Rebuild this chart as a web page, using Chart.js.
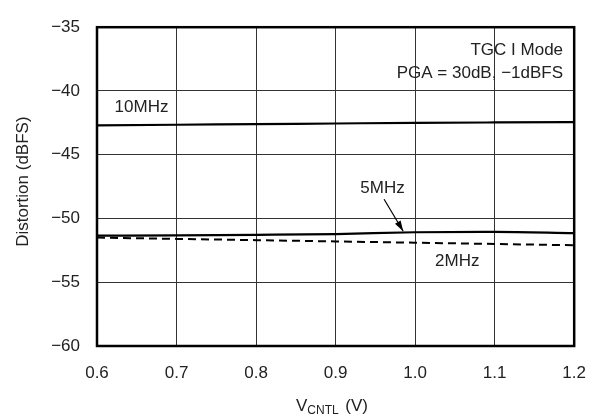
<!DOCTYPE html>
<html>
<head>
<meta charset="utf-8">
<script src="https://cdn.jsdelivr.net/npm/chart.js@4"></script>
<style>
  html, body { margin: 0; padding: 0; background: #fff; }
  #wrap { width: 603px; height: 416px; position: relative; }
</style>
</head>
<body>
<div id="wrap"><canvas id="chart"></canvas></div>
<script>
// control voltage (V)
const vcntl = [0.6, 0.7, 0.8, 0.9, 1.0, 1.1, 1.2];
// distortion (dBFS) per input frequency
const dist10MHz = [-42.7, -42.65, -42.6, -42.55, -42.5, -42.47, -42.45];
const dist5MHz = [-51.35, -51.32, -51.28, -51.22, -51.08, -51.05, -51.15];
const dist2MHz = [-51.5, -51.6, -51.7, -51.8, -51.9, -52.0, -52.1];

const xTicks = [0.6, 0.7, 0.8, 0.9, 1.0, 1.1, 1.2];
const yTicks = [-60, -55, -50, -45, -40, -35];

const FONT = '"Liberation Sans", Arial, Helvetica, sans-serif';

function pts(ys) {
  return vcntl.map((x, i) => ({ x: x, y: ys[i] }));
}

// frame, labels, arrow, axis titles
const decorate = {
  id: 'decorate',
  afterDraw(chart) {
    const c = chart.ctx;
    const a = chart.chartArea;
    const xs = chart.scales.x, ys = chart.scales.y;
    const px = v => xs.getPixelForValue(v);
    const py = v => ys.getPixelForValue(v);

    c.save();
    c.strokeStyle = '#000';
    c.lineWidth = 2.5;
    c.strokeRect(a.left, a.top, a.right - a.left, a.bottom - a.top);

    c.fillStyle = '#222';
    c.font = '17px ' + FONT;
    c.textBaseline = 'middle';
    c.textAlign = 'center';
    c.fillText('10MHz', px(0.656), py(-41.25));
    c.fillText('5MHz', px(0.959), py(-47.6));
    c.fillText('2MHz', px(1.053), py(-53.37));
    c.textAlign = 'right';
    c.fillText('TGC I Mode', px(1.186), py(-36.83));
    c.fillText('PGA = 30dB, \u22121dBFS', px(1.186), py(-38.58));

    // arrow to 5MHz curve
    const x1 = px(0.961), y1 = py(-48.49), x2 = px(0.985), y2 = py(-51.0);
    c.strokeStyle = '#000';
    c.lineWidth = 1.2;
    c.beginPath();
    c.moveTo(x1, y1);
    c.lineTo(x2, y2);
    c.stroke();
    const ang = Math.atan2(y2 - y1, x2 - x1);
    c.beginPath();
    c.moveTo(x2, y2);
    c.lineTo(x2 - 11 * Math.cos(ang - 0.3), y2 - 11 * Math.sin(ang - 0.3));
    c.lineTo(x2 - 11 * Math.cos(ang + 0.3), y2 - 11 * Math.sin(ang + 0.3));
    c.closePath();
    c.fillStyle = '#000';
    c.fill();

    // y title
    c.fillStyle = '#222';
    c.save();
    c.translate(23, (a.top + a.bottom) / 2 - 5);
    c.rotate(-Math.PI / 2);
    c.textAlign = 'center';
    c.fillText('Distortion (dBFS)', 0, 0);
    c.restore();

    // x title with subscript
    c.textAlign = 'left';
    const big = '17px ' + FONT, small = '12px ' + FONT;
    c.font = big;
    const w1 = c.measureText('V').width;
    const w3 = c.measureText(' (V)').width;
    c.font = small;
    const w2 = c.measureText('CNTL').width;
    let sx = 331 - (w1 + w2 + w3) / 2;
    const ty = 406;
    c.font = big;
    c.fillText('V', sx, ty);
    c.font = small;
    c.fillText('CNTL', sx + w1, ty + 5);
    c.font = big;
    c.fillText(' (V)', sx + w1 + w2 + 2, ty);
    c.restore();
  }
};

new Chart(document.getElementById('chart'), {
  type: 'line',
  data: {
    datasets: [
      { label: '10MHz', data: pts(dist10MHz), borderColor: '#000', borderWidth: 2.2, pointRadius: 0, cubicInterpolationMode: 'monotone' },
      { label: '5MHz', data: pts(dist5MHz), borderColor: '#000', borderWidth: 2.2, pointRadius: 0, cubicInterpolationMode: 'monotone' },
      { label: '2MHz', data: pts(dist2MHz), borderColor: '#000', borderWidth: 2, borderDash: [8, 5], pointRadius: 0, cubicInterpolationMode: 'monotone' }
    ]
  },
  options: {
    responsive: true,
    maintainAspectRatio: false,
    animation: false,
    layout: { padding: { left: 0, right: 21, top: 18, bottom: 0 } },
    plugins: { legend: { display: false }, tooltip: { enabled: false } },
    scales: {
      x: {
        type: 'linear',
        min: 0.6, max: 1.2,
        afterBuildTicks: s => { s.ticks = xTicks.map(v => ({ value: v })); },
        afterFit: s => { s.height = 70; },
        grid: { color: '#333', lineWidth: 1, drawTicks: false },
        border: { display: false },
        ticks: {
          padding: 17,
          color: '#222',
          font: { family: FONT, size: 17 },
          callback: v => v.toFixed(1)
        }
      },
      y: {
        min: -60, max: -35,
        afterBuildTicks: s => { s.ticks = yTicks.map(v => ({ value: v })); },
        afterFit: s => { s.width = 97; },
        grid: { color: '#333', lineWidth: 1, drawTicks: false },
        border: { display: false },
        ticks: {
          padding: 17,
          color: '#222',
          font: { family: FONT, size: 17 },
          callback: v => String(v).replace('-', '\u2212')
        }
      }
    }
  },
  plugins: [decorate]
});
</script>
</body>
</html>
